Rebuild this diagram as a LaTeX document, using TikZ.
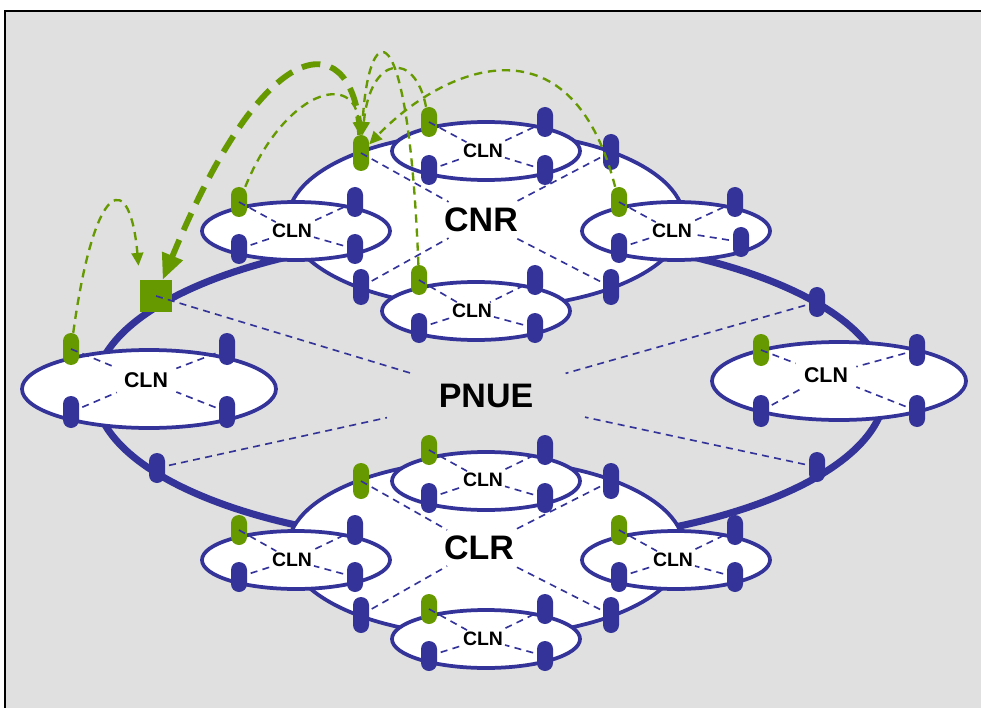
\documentclass[tikz,border=0pt]{standalone}
\usepackage{fontspec}
\setmainfont{Liberation Sans}
\usetikzlibrary{shapes.geometric, arrows.meta}
\definecolor{netblue}{HTML}{333399}
\definecolor{netgreen}{HTML}{669900}
\definecolor{panelgray}{HTML}{DFE0DF}
\tikzstyle{pnuering} = [ellipse, draw=netblue, line width=6pt, minimum width=23.7cm, minimum height=9.3cm, inner sep=0pt]
\tikzstyle{ring} = [ellipse, draw=netblue, fill=white, line width=3.2pt, minimum width=11.88cm, minimum height=5.28cm, inner sep=0pt]
\tikzstyle{cln} = [ellipse, draw=netblue, fill=white, line width=3.2pt, minimum width=5.64cm, minimum height=1.74cm, inner sep=0pt]
\tikzstyle{bigcln} = [cln, minimum width=7.62cm, minimum height=2.34cm]
\tikzstyle{port} = [rectangle, rounded corners=0.24cm, fill=netblue, minimum width=0.48cm, minimum height=0.9cm, inner sep=0pt]
\tikzstyle{bigport} = [port, minimum height=0.96cm]
\tikzstyle{ringport} = [port, minimum height=1.08cm]
\tikzstyle{gport} = [fill=netgreen]
\tikzstyle{gatebox} = [rectangle, fill=netgreen, minimum size=0.96cm, inner sep=0pt]
\tikzstyle{clnlabel} = [font=\bfseries\fontsize{16.6}{18}\selectfont, inner sep=1.5pt]
\tikzstyle{bigclnlabel} = [font=\bfseries\fontsize{18.2}{20}\selectfont, inner xsep=7pt, inner ysep=4pt]
\tikzstyle{ringlabel} = [font=\bfseries\fontsize{29}{32}\selectfont, inner xsep=17pt, inner ysep=5pt]
\tikzstyle{link} = [draw=netblue, line width=1.4pt, dash pattern=on 6pt off 4.5pt]
\tikzstyle{hop} = [color=netgreen, line width=2pt, dash pattern=on 7pt off 5pt, -{Triangle[length=11pt,width=10pt]}]
\tikzstyle{bighop} = [color=netgreen, line width=5pt, dash pattern=on 16pt off 9pt, -{Triangle[length=22pt,width=18pt]}]
\begin{document}
\begin{tikzpicture}[x=0.03cm, y=-0.03cm]
    \useasboundingbox (0,0) rectangle (981,708);
    \fill [panelgray] (5,11) rectangle (1100,800);
    \draw [line width=1.7pt] (5,800) -- (5,11) -- (1100,11);

    % rings
    \node (pnue) [pnuering] at (490,390) {};
    \node (cnr) [ring] at (486,220) {};
    \node (clr) [ring] at (486,548) {};

    % local networks
    \node (cnrT) [cln] at (486,151) {};
    \node (cnrL) [cln] at (296,231) {};
    \node (cnrR) [cln] at (676,231) {};
    \node (cnrB) [cln] at (476,311) {};
    \node (clrT) [cln] at (486,481) {};
    \node (clrL) [cln] at (296,560) {};
    \node (clrR) [cln] at (676,560) {};
    \node (clrB) [cln] at (486,639) {};
    \node (pnueL) [bigcln] at (149,389) {};
    \node (pnueR) [bigcln] at (839,381) {};

    % ports on the rings
    \node (cnrPa) [ringport, gport] at (361,153) {};
    \node (cnrPb) [ringport] at (611,152) {};
    \node (cnrPc) [ringport] at (361,287) {};
    \node (cnrPd) [ringport] at (611,287) {};
    \node (clrPa) [ringport, gport] at (361,481) {};
    \node (clrPb) [ringport] at (611,481) {};
    \node (clrPc) [ringport] at (361,615) {};
    \node (clrPd) [ringport] at (611,615) {};
    \node (gate) [gatebox] at (156,296) {};
    \node (pnuePb) [port] at (817,302) {};
    \node (pnuePc) [port] at (157,468) {};
    \node (pnuePd) [port] at (817,467) {};

    % ports on the local networks
    \node (cnrTa) [port, gport] at (429,122) {};
    \node (cnrTb) [port] at (545,122) {};
    \node (cnrTc) [port] at (429,170) {};
    \node (cnrTd) [port] at (545,170) {};
    \node (cnrLa) [port, gport] at (239,202) {};
    \node (cnrLb) [port] at (355,202) {};
    \node (cnrLc) [port] at (239,249) {};
    \node (cnrLd) [port] at (355,249) {};
    \node (cnrRa) [port, gport] at (619,202) {};
    \node (cnrRb) [port] at (735,202) {};
    \node (cnrRc) [port] at (619,248) {};
    \node (cnrRd) [port] at (741,242) {};
    \node (cnrBa) [port, gport] at (419,280) {};
    \node (cnrBb) [port] at (535,280) {};
    \node (cnrBc) [port] at (419,328) {};
    \node (cnrBd) [port] at (535,328) {};
    \node (clrTa) [port, gport] at (429,450) {};
    \node (clrTb) [port] at (545,450) {};
    \node (clrTc) [port] at (429,498) {};
    \node (clrTd) [port] at (545,498) {};
    \node (clrLa) [port, gport] at (239,530) {};
    \node (clrLb) [port] at (355,530) {};
    \node (clrLc) [port] at (239,577) {};
    \node (clrLd) [port] at (355,577) {};
    \node (clrRa) [port, gport] at (619,530) {};
    \node (clrRb) [port] at (735,530) {};
    \node (clrRc) [port] at (619,577) {};
    \node (clrRd) [port] at (735,577) {};
    \node (clrBa) [port, gport] at (429,609) {};
    \node (clrBb) [port] at (545,609) {};
    \node (clrBc) [port] at (429,656) {};
    \node (clrBd) [port] at (545,656) {};
    \node (pnueLa) [bigport, gport] at (71,349) {};
    \node (pnueLb) [bigport] at (227,349) {};
    \node (pnueLc) [bigport] at (71,412) {};
    \node (pnueLd) [bigport] at (227,412) {};
    \node (pnueRa) [bigport, gport] at (761,350) {};
    \node (pnueRb) [bigport] at (917,350) {};
    \node (pnueRc) [bigport] at (761,411) {};
    \node (pnueRd) [bigport] at (917,411) {};

    % labels
    \node (pnuelab) [ringlabel, inner xsep=44pt, inner ysep=9pt] at (486,396) {PNUE};
    \node (cnrlab) [ringlabel] at (481,220) {CNR};
    \node (clrlab) [ringlabel] at (479,548) {CLR};
    \node (cnrTlab) [clnlabel] at (483,151) {CLN};
    \node (cnrLlab) [clnlabel] at (292,231) {CLN};
    \node (cnrRlab) [clnlabel] at (672,231) {CLN};
    \node (cnrBlab) [clnlabel] at (472,311) {CLN};
    \node (clrTlab) [clnlabel] at (483,480) {CLN};
    \node (clrLlab) [clnlabel] at (292,560) {CLN};
    \node (clrRlab) [clnlabel] at (673,560) {CLN};
    \node (clrBlab) [clnlabel] at (483,639) {CLN};
    \node (pnueLlab) [bigclnlabel] at (146,380) {CLN};
    \node (pnueRlab) [bigclnlabel] at (826,375) {CLN};

    % links to the labels
    \draw [link] (gate.center) -- (pnuelab);
    \draw [link] (pnuePb.center) -- (pnuelab);
    \draw [link] (pnuePc.center) -- (pnuelab);
    \draw [link] (pnuePd.center) -- (pnuelab);
    \draw [link] (cnrPa.center) -- (cnrlab);
    \draw [link] (cnrPb.center) -- (cnrlab);
    \draw [link] (cnrPc.center) -- (cnrlab);
    \draw [link] (cnrPd.center) -- (cnrlab);
    \draw [link] (clrPa.center) -- (clrlab);
    \draw [link] (clrPb.center) -- (clrlab);
    \draw [link] (clrPc.center) -- (clrlab);
    \draw [link] (clrPd.center) -- (clrlab);
    \draw [link] (cnrTa.center) -- (cnrTlab) (cnrTb.center) -- (cnrTlab) (cnrTc.center) -- (cnrTlab) (cnrTd.center) -- (cnrTlab);
    \draw [link] (cnrLa.center) -- (cnrLlab) (cnrLb.center) -- (cnrLlab) (cnrLc.center) -- (cnrLlab) (cnrLd.center) -- (cnrLlab);
    \draw [link] (cnrRa.center) -- (cnrRlab) (cnrRb.center) -- (cnrRlab) (cnrRc.center) -- (cnrRlab) (cnrRd.center) -- (cnrRlab);
    \draw [link] (cnrBa.center) -- (cnrBlab) (cnrBb.center) -- (cnrBlab) (cnrBc.center) -- (cnrBlab) (cnrBd.center) -- (cnrBlab);
    \draw [link] (clrTa.center) -- (clrTlab) (clrTb.center) -- (clrTlab) (clrTc.center) -- (clrTlab) (clrTd.center) -- (clrTlab);
    \draw [link] (clrLa.center) -- (clrLlab) (clrLb.center) -- (clrLlab) (clrLc.center) -- (clrLlab) (clrLd.center) -- (clrLlab);
    \draw [link] (clrRa.center) -- (clrRlab) (clrRb.center) -- (clrRlab) (clrRc.center) -- (clrRlab) (clrRd.center) -- (clrRlab);
    \draw [link] (clrBa.center) -- (clrBlab) (clrBb.center) -- (clrBlab) (clrBc.center) -- (clrBlab) (clrBd.center) -- (clrBlab);
    \draw [link] (pnueLa.center) -- (pnueLlab) (pnueLb.center) -- (pnueLlab) (pnueLc.center) -- (pnueLlab) (pnueLd.center) -- (pnueLlab);
    \draw [link] (pnueRa.center) -- (pnueRlab) (pnueRb.center) -- (pnueRlab) (pnueRc.center) -- (pnueRlab) (pnueRd.center) -- (pnueRlab);

    % hops of the green ports
    \draw [hop, shorten >=12pt] (pnueLa) .. controls (95,175) and (130,170) .. (gate.north west);
    \draw [bighop] (cnrPa) .. controls (355,30) and (270,20) .. (gate);
    \draw [hop] (cnrLa) .. controls (285,90) and (355,70) .. (cnrPa);
    \draw [hop] (cnrBa) .. controls (408,0) and (368,20) .. (cnrPa);
    \draw [hop] (cnrTa) .. controls (415,50) and (370,55) .. (cnrPa);
    \draw [hop] (cnrRa) .. controls (570,10) and (440,70) .. (cnrPa);
\end{tikzpicture}
\end{document}
